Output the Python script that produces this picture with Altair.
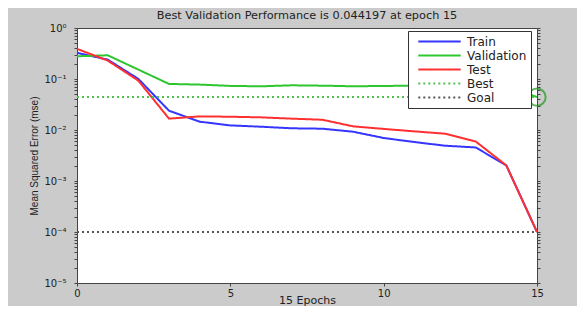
import altair as alt
import pandas as pd

epochs = list(range(16))
train = [0.326, 0.240, 0.1005, 0.0239, 0.01455, 0.0123, 0.0116, 0.0108, 0.0106,
         0.00926, 0.00697, 0.00581, 0.00492, 0.00455, 0.00202, 0.0001]
validation = [0.279, 0.292, 0.153, 0.080, 0.0777, 0.0732, 0.0719, 0.0752, 0.074,
              0.072, 0.073, 0.074, 0.075, 0.075, 0.074, 0.044197]
test = [0.39, 0.23, 0.093, 0.0167, 0.0185, 0.0182, 0.0177, 0.0167, 0.0159,
        0.0118, 0.0105, 0.0094, 0.00846, 0.00597, 0.00202, 0.0001]
best_value = 0.044197
best_epoch = 15
goal_value = 1e-4

series_names = ["Train", "Validation", "Test", "Best", "Goal"]
series_colors = ["#3535ff", "#2ec62e", "#ff3030", "#4cc34c", "#555555"]
series_dash = [[1, 0], [1, 0], [1, 0], [2, 3], [2, 3]]

rows = []
for name, vals in [("Train", train), ("Validation", validation), ("Test", test),
                   ("Best", [best_value] * len(epochs)), ("Goal", [goal_value] * len(epochs))]:
    for e, v in zip(epochs, vals):
        rows.append({"epoch": e, "mse": v, "series": name})
df = pd.DataFrame(rows)
best_df = pd.DataFrame({"epoch": [best_epoch], "mse": [best_value]})

tick_vals = []
for k in range(0, 5):
    base = 10.0 ** (-k - 1)
    for m in range(1, 10):
        tick_vals.append(round(m * base, 12))
tick_vals.append(1.0)

y_scale = alt.Scale(type="log", domain=[1e-5, 1])
x_scale = alt.Scale(domain=[0, 15], nice=False)

label_expr = ("abs(log(datum.value)/LN10 - round(log(datum.value)/LN10)) < 1e-6 ? "
              "'10' + ['\u2070','\u207b\u00b9','\u207b\u00b2','\u207b\u00b3','\u207b\u2074','\u207b\u2075']"
              "[-round(log(datum.value)/LN10)] : ''")

x_enc = alt.X("epoch:Q", scale=x_scale,
              axis=alt.Axis(values=[0, 5, 10, 15], title="15 Epochs", grid=False,
                            tickSize=3, labelPadding=2, titlePadding=-4,
                            labelFont="DejaVu Sans", titleFont="DejaVu Sans",
                            labelFontSize=10, titleFontSize=11, labelFlush=False))

legend_def = alt.Legend(title=None, orient="none", legendX=331, legendY=3)

lines = alt.Chart(df).mark_line(strokeWidth=2).encode(
    x=x_enc,
    y=alt.Y("mse:Q", scale=y_scale,
            axis=alt.Axis(values=tick_vals, labelExpr=label_expr, grid=False, tickSize=3,
                          labelPadding=8, title="Mean Squared Error (mse)", titlePadding=4,
                          labelFont="DejaVu Sans", titleFont="Liberation Sans",
                          labelFontSize=10, titleFontSize=10)),
    color=alt.Color("series:N", sort=series_names,
                    scale=alt.Scale(domain=series_names, range=series_colors),
                    legend=legend_def),
    strokeDash=alt.StrokeDash("series:N", sort=series_names,
                              scale=alt.Scale(domain=series_names, range=series_dash),
                              legend=legend_def),
    strokeWidth=alt.condition("datum.series == 'Best' || datum.series == 'Goal'",
                              alt.value(1.3), alt.value(2)),
    detail="series:N",
)

circle = alt.Chart(best_df).mark_point(shape="circle", filled=False, size=300,
                                       color="#1f9a1f", strokeWidth=2).encode(
    x=alt.X("epoch:Q", scale=x_scale),
    y=alt.Y("mse:Q", scale=y_scale),
)

right_axis = alt.Chart(df).mark_line(opacity=0).encode(
    x=alt.X("epoch:Q", scale=x_scale),
    y=alt.Y("mse:Q", scale=y_scale,
            axis=alt.Axis(orient="right", values=tick_vals, labels=False, title=None,
                          grid=False, tickSize=3, domain=False)),
    detail="series:N",
)

chart = alt.layer(alt.layer(lines, circle), right_axis).resolve_scale(
    y="independent"
).properties(
    width=460, height=255,
    title=alt.Title("Best Validation Performance is 0.044197 at epoch 15",
                    fontSize=11.3, fontWeight="normal", color="#222", offset=2,
                    anchor="middle", font="DejaVu Sans"),
    autosize=alt.AutoSizeParams(type="none"),
    padding={"left": 69, "top": 20, "right": 40, "bottom": 23},
    background="#cbcbcb",
).configure_view(
    fill="white", stroke="#444", strokeWidth=1
).configure_axis(
    labelColor="#222", titleColor="#222", domainColor="#444", tickColor="#444",
    titleFontWeight="normal",
).configure_legend(
    symbolType="stroke", symbolSize=1800, symbolStrokeWidth=2,
    labelFont="DejaVu Sans", labelFontSize=12, labelColor="#222",
    padding=4, rowPadding=1, labelOffset=5, symbolOffset=5, clipHeight=13,
    strokeColor="#333", fillColor="white", cornerRadius=0,
)

chart.save("out.html", embed_options={"renderer": "svg", "actions": False})
